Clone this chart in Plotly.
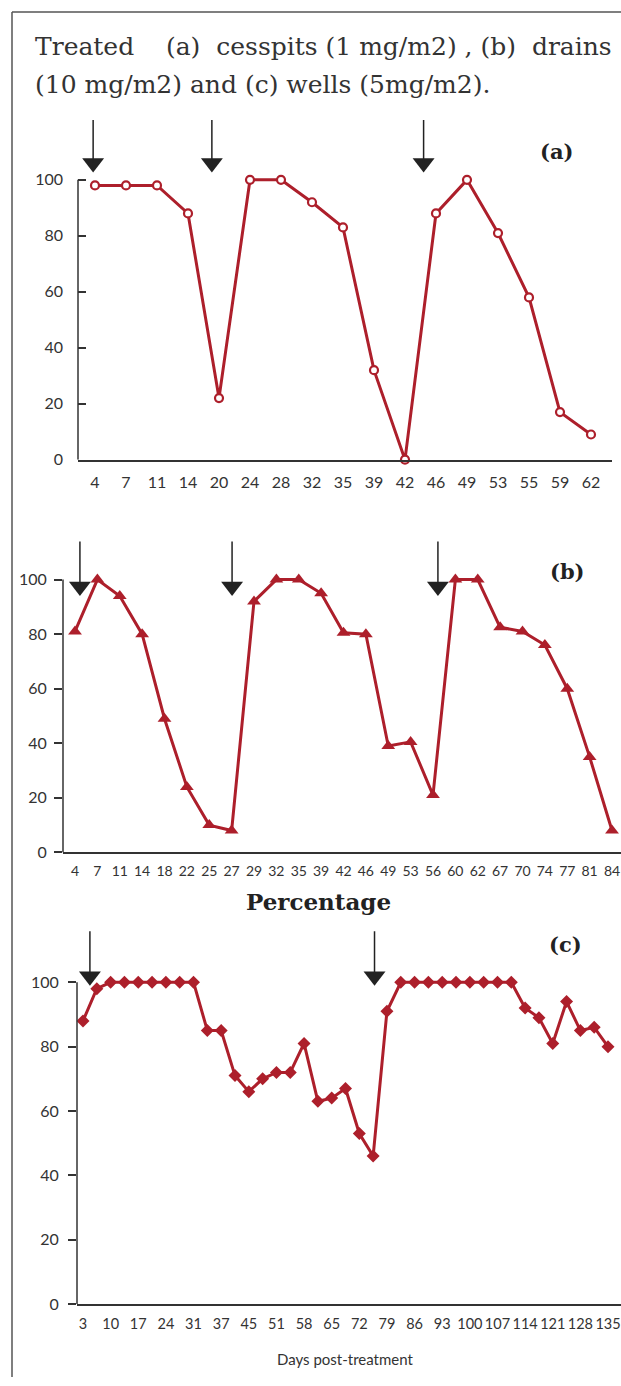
import plotly.graph_objects as go

# ---------------- data ----------------
title_line1 = ("Treated&nbsp;&nbsp;&nbsp;&nbsp;(a)&nbsp;&nbsp;cesspits&nbsp;(1&nbsp;mg/m2)&nbsp;,&nbsp;(b)"
               "&nbsp;&nbsp;drains")
title_line2 = "(10 mg/m2) and (c) wells (5mg/m2)."

a_days = ["4", "7", "11", "14", "20", "24", "28", "32", "35", "39", "42", "46", "49", "53", "55", "59", "62"]
a_vals = [98, 98, 98, 88, 22, 100, 100, 92, 83, 32, 0, 88, 100, 81, 58, 17, 9]
a_arrows = [-0.06, 3.77, 10.6]   # treatment times (category-index units)

b_days = ["4", "7", "11", "14", "18", "22", "25", "27", "29", "32", "35", "39", "42", "46", "49", "53",
          "56", "60", "62", "67", "70", "74", "77", "81", "84"]
b_vals = [81, 100, 94, 80, 49, 24, 10, 8, 92, 100, 100, 95, 80.5, 80, 39, 40.5, 21, 100, 100, 82.5,
          81, 76, 60, 35, 8]
b_arrows = [0.22, 7.02, 16.22]

c_days = ["3", "7", "10", "14", "17", "21", "24", "28", "31", "34", "37", "41", "45", "48", "51", "55",
          "58", "62", "65", "69", "72", "76", "79", "83", "86", "90", "93", "97", "100", "104", "107",
          "111", "114", "118", "121", "125", "128", "132", "135"]
c_vals = [88, 98, 100, 100, 100, 100, 100, 100, 100, 85, 85, 71, 66, 70, 72, 72, 81, 63, 64, 67, 53, 46,
          91, 100, 100, 100, 100, 100, 100, 100, 100, 100, 92, 89, 81, 94, 85, 86, 80]
c_arrows = [0.5, 21.1]

y_ticks = [0, 20, 40, 60, 80, 100]

# ---------------- style ----------------
W, H = 621, 1386
KY = 1.0058  # vertical correction
RED = "#AD1F2B"
INK = "#333333"
ARROW = "#222222"
SANS = "Lato, 'Open Sans', sans-serif"
SERIF = "'DejaVu Serif', 'Liberation Serif', serif"


def px_x(p):
    return p / W


def px_y(p):
    return 1 - (p * KY) / H


fig = go.Figure()

panels = [
    dict(days=a_days, vals=a_vals, arrows=a_arrows, sym="circle", ms=8, xl=78, xr=612, first=95,
         step=31.0, y0=460, ppu=2.8, top=115, ticks="inside", shaft=120, head=163, ylab=16, xlab=16,
         ystand=14, xstand=7, tickevery=1),
    dict(days=b_days, vals=b_vals, arrows=b_arrows, sym="triangle-up", ms=12, xl=63, xr=621, first=75,
         step=22.375, y0=853, ppu=2.73, top=538, ticks="outside", shaft=542, head=587, ylab=16, xlab=14,
         ystand=4, xstand=5, tickevery=1),
    dict(days=c_days, vals=c_vals, arrows=c_arrows, sym="diamond", ms=10, xl=77, xr=621, first=83,
         step=13.816, y0=1305, ppu=3.22, top=930, ticks="outside", shaft=932, head=977, ylab=16, xlab=14.5,
         ystand=6, xstand=6, tickevery=2),
]

layout_axes = {}
shapes = []
for i, p in enumerate(panels, start=1):
    xs = "" if i == 1 else str(i)
    xname, yname = "x" + xs, "y" + xs
    idx = list(range(len(p["days"])))
    xr0 = (p["xl"] - p["first"]) / p["step"]
    xr1 = (p["xr"] - p["first"]) / p["step"]
    ymax = (p["y0"] - p["top"]) / p["ppu"]

    if p["sym"] == "circle":
        marker = dict(symbol="circle", size=p["ms"], color="white", line=dict(color=RED, width=2.2))
    else:
        marker = dict(symbol=p["sym"], size=p["ms"], color=RED, line=dict(color=RED, width=0))

    fig.add_trace(go.Scatter(
        x=idx, y=p["vals"], mode="lines+markers", xaxis=xname, yaxis=yname,
        line=dict(color=RED, width=3), marker=marker, cliponaxis=False, showlegend=False,
        hoverinfo="skip"))

    shaft_top = (p["y0"] - p["shaft"]) / p["ppu"]
    head_c = (p["y0"] - p["head"]) / p["ppu"]
    for ax in p["arrows"]:
        shapes.append(dict(type="line", xref=xname, yref=yname, x0=ax, x1=ax, y0=shaft_top, y1=head_c,
                           line=dict(color=ARROW, width=1.5)))
    fig.add_trace(go.Scatter(
        x=p["arrows"], y=[head_c] * len(p["arrows"]), mode="markers", xaxis=xname, yaxis=yname,
        marker=dict(symbol="triangle-down", size=19, color=ARROW), cliponaxis=False,
        showlegend=False, hoverinfo="skip"))

    shapes.append(dict(type="line", xref=xname + " domain", yref=yname, x0=0, x1=0, y0=0, y1=100,
                       line=dict(color=INK, width=1.5)))

    tv = idx[::p["tickevery"]]
    tt = p["days"][::p["tickevery"]]
    layout_axes["xaxis" + xs] = dict(
        domain=[px_x(p["xl"]), min(1, px_x(p["xr"]))], range=[xr0, xr1], anchor=yname,
        showgrid=False, zeroline=False, showline=True, linecolor=INK, linewidth=1.5,
        tickmode="array", tickvals=tv, ticktext=tt, ticks="",
        tickfont=dict(family=SANS, size=p["xlab"], color=INK),
        ticklabelstandoff=p["xstand"], ticklabeloverflow="allow", fixedrange=True)
    layout_axes["yaxis" + xs] = dict(
        domain=[px_y(p["y0"]), px_y(p["top"])], range=[0, ymax], anchor=xname,
        showgrid=False, zeroline=False, showline=False,
        tickmode="array", tickvals=y_ticks, ticks=p["ticks"], ticklen=8, tickwidth=1.5, tickcolor=INK,
        tickfont=dict(family=SANS, size=p["ylab"], color=INK),
        ticklabelstandoff=p["ystand"], fixedrange=True)

# frame
shapes.append(dict(type="line", xref="paper", yref="paper", x0=px_x(12), x1=px_x(12), y0=0, y1=px_y(12),
                   line=dict(color="#555555", width=1.5)))
shapes.append(dict(type="line", xref="paper", yref="paper", x0=px_x(12), x1=1, y0=px_y(12), y1=px_y(12),
                   line=dict(color="#555555", width=1.5)))

annotations = [
    dict(text=title_line1, x=px_x(33), y=px_y(47), xanchor="left", yanchor="middle",
         font=dict(family=SERIF, size=25, color=INK)),
    dict(text=title_line2, x=px_x(33), y=px_y(85), xanchor="left", yanchor="middle",
         font=dict(family=SERIF, size=25, color=INK)),
    dict(text="<b>(a)</b>", x=px_x(556), y=px_y(152), xanchor="center", yanchor="middle",
         font=dict(family=SERIF, size=21, color="#222222")),
    dict(text="<b>(b)</b>", x=px_x(567), y=px_y(572), xanchor="center", yanchor="middle",
         font=dict(family=SERIF, size=21, color="#222222")),
    dict(text="<b>(c)</b>", x=px_x(565), y=px_y(945), xanchor="center", yanchor="middle",
         font=dict(family=SERIF, size=21, color="#222222")),
    dict(text="<b>Percentage</b>", x=px_x(318), y=px_y(902), xanchor="center", yanchor="middle",
         font=dict(family=SERIF, size=23, color="#222222")),
    dict(text="Days post-treatment", x=px_x(345), y=px_y(1360), xanchor="center", yanchor="middle",
         font=dict(family=SANS, size=15, color=INK)),
]
for a in annotations:
    a.update(xref="paper", yref="paper", showarrow=False)

fig.update_layout(
    width=W, height=H, autosize=False,
    margin=dict(l=0, r=0, t=0, b=0, pad=0),
    paper_bgcolor="white", plot_bgcolor="white",
    shapes=shapes, annotations=annotations, showlegend=False,
    **layout_axes)

page_fix = (
    "var st=document.createElement('style');"
    "st.textContent='html,body{margin:0!important;padding:0!important;overflow:hidden!important;"
    "width:621px;height:1386px;} body>div{margin:0;padding:0;height:1386px;overflow:hidden;}';"
    "document.head.appendChild(st);"
)
fig.write_html("out.html", config={"displayModeBar": False}, post_script=page_fix)
